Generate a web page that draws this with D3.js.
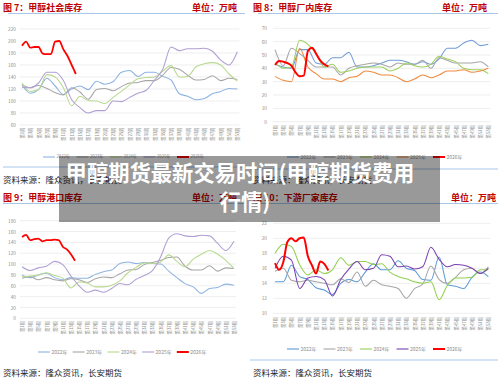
<!DOCTYPE html>
<html><head><meta charset="utf-8">
<script src="https://cdn.jsdelivr.net/npm/d3@7"></script>
<style>html,body{margin:0;padding:0;background:#fff;}svg{display:block;}</style>
</head><body>
<svg id="c" width="500" height="380"></svg>
<script>
// ---------- DATA ----------
const weeks = d3.range(1, 54);               // 第1周 ... 第53周
const oddWeeks = d3.range(1, 54, 2);         // weeks carrying a tick label / a reading
const weekLabels = oddWeeks.map(w => "第" + w + "周");
const redWeeks = d3.range(1, 15);            // 2026 weekly readings
const yearNames = ["2022年", "2023年", "2024年", "2025年", "2026年"];

const titles = ["图 7：甲醇社会库存", "图 8：甲醇厂内库存", "图 9：甲醇港口库存", "图 10：下游厂家库存"];
const unitText = "单位：万吨";
const sourceText = "资料来源：隆众资讯，长安期货";
const overlayLines = ["甲醇期货最新交易时间(甲醇期货费用", "行情)"];

const ticks7 = [60, 80, 100, 120, 140, 160, 180, 200, 220];
const ticks8 = [0, 10, 20, 30, 40, 50, 60, 70];
const ticks9 = [0, 20, 40, 60, 80, 100, 120, 140, 160, 180];
const ticks10 = [10, 12, 14, 16, 18, 20, 22];

// 图7 社会库存 (odd weeks)
const s7_2022 = [127,113,119,138,125,111,120,125,119,133,128,132,148,151,141,148,148,141,135,112,108,102,104,112,116,121,120];
const s7_2023 = [127,122,126,121,114,110,122,115,103,119,121,117,124,130,131,134,134,143,156,153,143,135,136,142,134,138,136];
const s7_2024 = [130,116,119,144,140,122,92,108,101,100,96,106,116,127,137,139,140,150,159,140,141,157,162,164,160,145,133];
const s7_2025 = [123,122,130,148,148,134,102,89,80,84,84,100,99,106,113,118,135,153,190,184,187,187,188,183,168,160,182];
const s7_2026 = [192,199,189,190,190,179,178,178,199,200,186,175,160,145];

// 图8 厂内库存
const s8_2022 = [43,41,40,54,54,44,43,48,48,52,41,41,42,44,46,46,45,43,45,43,47,55,55,59,61,57,58];
const s8_2023 = [54,42,55,51,46,41,41,41,35,40,42,43,44,43,41,44,43,43,46,40,48,46,44,44,44,45,41];
const s8_2024 = [44,40,41,61,58,51,41,43,37,38,40,41,41,41,38,40,44,42,41,43,49,47,45,40,39,39,36];
const s8_2025 = [34,31,30,55,41,36,32,32,30,33,34,38,37,35,35,33,30,32,35,33,35,38,38,39,37,38,40];
const s8_2026 = [42.5,45.5,45,44,42,37,34,34.5,53,55.5,51,46,43,41.5];

// 图9 港口库存
const s9_2022 = [80,75,80,83,75,71,75,74,74,81,86,89,101,104,101,103,101,100,87,75,64,58,46,55,57,63,61];
const s9_2023 = [74,77,71,75,71,69,73,71,66,73,76,75,82,89,90,99,103,107,112,113,96,89,89,97,87,93,92];
const s9_2024 = [76,78,80,84,79,74,56,67,65,58,58,61,69,84,94,102,101,104,117,105,95,109,118,125,118,107,92];
const s9_2025 = [95,88,93,96,105,99,78,60,48,52,48,55,64,62,72,79,88,113,148,156,152,151,153,152,138,125,142];
const s9_2026 = [150,154,144,146,147,142,144,144,145,144,132,127,118,106];

// 图10 下游厂家库存
const s10_2022 = [14.2,14.2,16.4,14.9,14.5,13.4,13.1,12.5,14.0,14.5,14.2,15.5,16.6,15.8,15.8,17.0,16.0,15.7,14.5,14.4,17.5,13.8,13.6,13.3,14.8,15.5,14.9];
const s10_2023 = [15.6,16.0,14.4,14.2,14.4,14.2,14.0,13.8,14.6,14.1,15.5,13.6,14.4,13.8,13.6,13.3,12.0,13.3,13.9,16.3,14.5,14.0,14.8,15.8,16.0,15.3,16.2];
const s10_2024 = [18.0,19.2,18.9,16.5,15.1,15.8,15.3,15.8,17.4,16.4,16.9,16.9,16.5,16.6,15.5,14.9,14.6,14.2,14.0,14.2,11.8,13.7,14.7,14.7,14.8,15.8,15.8];
const s10_2025 = [16.0,17.6,17.1,13.3,14.7,14.9,14.5,12.3,14.5,15.9,16.9,15.8,16.0,17.8,17.6,16.2,16.3,15.9,16.2,18.8,17.2,16.2,16.5,16.4,16.0,15.3,16.0];
const s10_2026 = [16.7,15.8,16.8,19.5,20.0,19.6,20.0,20.1,17.6,16.4,15.3,16.9,16.6,15.7];

// ---------- LAYOUT / STYLE ----------
const FONT = "'Noto Sans CJK SC','Noto Sans',sans-serif";
const colsA = ["#8db3e2", "#a6a6a6", "#b8d98f", "#b09fd4", "#ff0000"];
const colsB = ["#6f9bd8", "#a6a6a6", "#9bd05a", "#f08a3c", "#ff0000"];
const colsD = ["#5b9bd5", "#a6a6a6", "#92d050", "#7a3fb0", "#ff0000"];

const panels = [
  { title: titles[0], ox: 0, oy: 0, xr: [19.9, 239.4], yd: [60, 220], yr: [125, 29], ticks: ticks7,
    ylabX: 16, xlabY: 127.5, legY: 157, legX: 43, legStep: 33.5, legFont: 4.2, cols: colsA,
    headLine: [8, 245], unitX: 237, bottomLine: [3, 245, 167], srcY: 183,
    data: [s7_2022, s7_2023, s7_2024, s7_2025], red: s7_2026, redW: 1.8 },
  { title: titles[1], ox: 250, oy: 0, xr: [273, 490.4], yd: [0, 70], yr: [121.7, 28.3], ticks: ticks8,
    ylabX: 267, xlabY: 125, legY: 157, legX: 287, legStep: 36.5, legFont: 5, cols: colsB,
    headLine: [258, 498], unitX: 487, bottomLine: [250, 498, 169], srcY: 183,
    data: [s8_2022, s8_2023, s8_2024, s8_2025], red: s8_2026, redW: 2 },
  { title: titles[2], ox: 0, oy: 190, xr: [20, 236], yd: [0, 180], yr: [318.3, 220.7], ticks: ticks9,
    ylabX: 16, xlabY: 321, legY: 352, legX: 38, legStep: 34.7, legFont: 5, cols: colsA,
    headLine: [3, 245], unitX: 237, bottomLine: null, srcY: 376,
    data: [s9_2022, s9_2023, s9_2024, s9_2025], red: s9_2026, redW: 1.8 },
  { title: titles[3], ox: 250, oy: 190, xr: [273, 490.4], yd: [10, 22], yr: [313.3, 223.3], ticks: ticks10,
    ylabX: 267, xlabY: 317, legY: 349, legX: 287, legStep: 36.5, legFont: 5, cols: colsD,
    headLine: [255, 498], unitX: 496, bottomLine: [250, 498, 360], srcY: 376,
    data: [s10_2022, s10_2023, s10_2024, s10_2025], red: s10_2026, redW: 2 }
];

const svg = d3.select("#c");

function drawPanel(p) {
  const g = svg.append("g");
  const x = d3.scalePoint().domain(weeks).range(p.xr).padding(0.5);
  const y = d3.scaleLinear().domain(p.yd).range(p.yr);

  // header
  g.append("text").attr("x", p.ox + 3).attr("y", p.oy + 10.5).text(p.title)
    .attr("font-family", FONT).attr("font-size", 9).attr("font-weight", 700).attr("fill", "#c00000");
  g.append("text").attr("x", p.unitX).attr("y", p.oy + 10.5).text(unitText).attr("text-anchor", "end")
    .attr("font-family", FONT).attr("font-size", 9).attr("font-weight", 700).attr("fill", "#c00000");
  g.append("line").attr("x1", p.headLine[0]).attr("x2", p.headLine[1])
    .attr("y1", p.oy + 13.5).attr("y2", p.oy + 13.5).attr("stroke", "#a9c8e8").attr("stroke-width", 1.2);

  // grid
  g.append("g").selectAll("line").data(p.ticks).join("line")
    .attr("x1", p.xr[0]).attr("x2", p.xr[1]).attr("y1", d => y(d)).attr("y2", d => y(d))
    .attr("stroke", "#e3e3e3").attr("stroke-width", 0.6);

  // y axis
  const ya = g.append("g").attr("transform", `translate(${p.ylabX},0)`)
    .call(d3.axisLeft(y).tickValues(p.ticks).tickSize(0).tickPadding(0));
  ya.select(".domain").remove();
  ya.selectAll("text").attr("font-family", FONT).attr("font-size", 4.8).attr("fill", "#8c8c8c");

  // x axis
  const xa = g.append("g").attr("transform", `translate(0,${p.xlabY})`)
    .call(d3.axisBottom(x).tickValues(oddWeeks).tickFormat((w, i) => weekLabels[i]).tickSize(0));
  xa.select(".domain").remove();
  xa.selectAll("text").attr("transform", "rotate(-90)").attr("text-anchor", "end")
    .attr("x", 0).attr("y", 0).attr("dy", "0.35em")
    .attr("font-family", FONT).attr("font-size", 4.3).attr("fill", "#8c8c8c");

  // series
  const line = d3.line().defined(d => d[1] != null).x(d => x(d[0])).y(d => y(d[1])).curve(d3.curveMonotoneX);
  p.data.forEach((vals, i) => {
    g.append("path").datum(oddWeeks.map((w, k) => [w, vals[k]]))
      .attr("d", line).attr("fill", "none").attr("stroke", p.cols[i]).attr("stroke-width", 1.05);
  });
  g.append("path").datum(redWeeks.map((w, k) => [w, p.red[k]]))
    .attr("d", line).attr("fill", "none").attr("stroke", p.cols[4]).attr("stroke-width", p.redW)
    .attr("stroke-linejoin", "round");

  // legend
  const lg = g.append("g");
  yearNames.forEach((nm, i) => {
    const lx = p.legX + i * p.legStep;
    lg.append("line").attr("x1", lx).attr("x2", lx + 12).attr("y1", p.legY).attr("y2", p.legY)
      .attr("stroke", p.cols[i]).attr("stroke-width", i === 4 ? 2 : 1.1);
    lg.append("text").attr("x", lx + 13.5).attr("y", p.legY).attr("dy", "0.35em").text(nm)
      .attr("font-family", FONT).attr("font-size", p.legFont).attr("fill", "#8c8c8c");
  });

  // bottom rule and source
  if (p.bottomLine) {
    g.append("line").attr("x1", p.bottomLine[0]).attr("x2", p.bottomLine[1])
      .attr("y1", p.bottomLine[2]).attr("y2", p.bottomLine[2]).attr("stroke", "#a9c8e8").attr("stroke-width", 1.2);
  }
  g.append("text").attr("x", p.ox + 3).attr("y", p.srcY).text(sourceText)
    .attr("font-family", FONT).attr("font-size", 8.5).attr("fill", "#262626");
}

panels.forEach(drawPanel);

// watermark overlay
const ov = svg.append("g");
ov.append("rect").attr("x", 59).attr("y", 156).attr("width", 381).attr("height", 66)
  .attr("fill", "rgba(0,0,0,0.4)");
ov.append("text").attr("x", 240).attr("y", 180.5).attr("text-anchor", "middle").text(overlayLines[0])
  .attr("font-family", FONT).attr("font-size", 21.3).attr("font-weight", 700).attr("fill", "#fff");
ov.append("text").attr("x", 245).attr("y", 210).attr("text-anchor", "middle").text(overlayLines[1])
  .attr("font-family", FONT).attr("font-size", 21.3).attr("font-weight", 700).attr("fill", "#fff");
</script>
</body></html>
